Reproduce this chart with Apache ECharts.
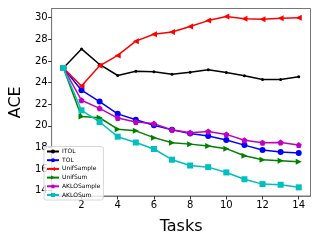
<!DOCTYPE html>
<html><head><meta charset="utf-8">
<script src="https://cdn.jsdelivr.net/npm/echarts@6/dist/echarts.min.js"></script>
<style>html,body{margin:0;padding:0;background:#fff}#c{width:320px;height:240px}</style>
</head><body><div id="c"></div>
<script>
const tasks = [1,2,3,4,5,6,7,8,9,10,11,12,13,14];
const ITOL = [25.35,27.11,25.67,24.65,25.04,25.0,24.77,24.95,25.19,24.92,24.62,24.29,24.29,24.53];
const TOL = [25.35,23.29,22.24,21.1,20.56,20.05,19.62,19.29,19.05,18.69,18.21,17.76,17.58,17.49];
const UnifSample = [25.35,23.68,25.55,26.51,27.83,28.47,28.68,29.19,29.73,30.1,29.91,29.85,29.94,30.0];
const UnifSum = [25.35,20.86,20.74,19.68,19.53,18.9,18.42,18.3,18.12,17.88,17.22,16.86,16.77,16.68];
const AKLOSample = [25.35,22.36,21.61,20.71,20.35,20.2,19.62,19.35,19.47,19.2,18.66,18.42,18.45,18.21];
const AKLOSum = [25.35,21.43,20.35,18.99,18.45,17.85,16.86,16.32,16.17,15.68,15.05,14.6,14.54,14.3];
const xTicks = [2,4,6,8,10,12,14];
const yTicks = [14,16,18,20,22,24,26,28,30];

const pentagon = 'path://M0,-1 L0.951,-0.309 L0.588,0.809 L-0.588,0.809 L-0.951,-0.309 Z';
function mk(name, data, color, symbol, size, rot) {
  return {
    name, type: 'line', data: tasks.map((t, i) => [t, data[i]]),
    symbol, symbolSize: size, symbolRotate: rot || 0,
    lineStyle: { color, width: 1.5 }, itemStyle: { color },
    showAllSymbol: true, animation: false
  };
}
const chart = echarts.init(document.getElementById('c'), null, { renderer: 'canvas' });
chart.setOption({
  animation: false,
  grid: { left: 41, right: 9.5, top: 8.5, bottom: 39, show: true, borderColor: '#777', borderWidth: 1 },
  xAxis: {
    type: 'value', min: 0.35, max: 14.65,
    name: 'Tasks', nameLocation: 'middle', nameGap: 23,
    nameTextStyle: { fontFamily: 'DejaVu Sans', fontSize: 16, color: '#000' },
    axisLine: { show: true, lineStyle: { color: '#777' } },
    axisTick: { show: true, length: 3.5, customValues: xTicks, lineStyle: { color: '#333' } },
    axisLabel: { customValues: xTicks, fontFamily: 'DejaVu Sans', fontSize: 10, color: '#000', margin: 4 },
    splitLine: { show: false }
  },
  yAxis: {
    type: 'value', min: 13.5, max: 30.85,
    name: 'ACE', nameLocation: 'middle', nameGap: 22,
    nameTextStyle: { fontFamily: 'DejaVu Sans', fontSize: 16, color: '#000' },
    axisLine: { show: true, lineStyle: { color: '#777' } },
    axisTick: { show: true, length: 3.5, customValues: yTicks, lineStyle: { color: '#333' } },
    axisLabel: { customValues: yTicks, fontFamily: 'DejaVu Sans', fontSize: 10, color: '#000', margin: 4 },
    splitLine: { show: false }
  },
  legend: {
    orient: 'vertical', left: 44, top: 146.5,
    itemWidth: 12, itemHeight: 5, itemGap: 2.7,
    padding: [2, 3, 2, 2],
    borderColor: '#ccc', borderWidth: 0.8, borderRadius: 2, backgroundColor: 'rgba(255,255,255,0.8)',
    textStyle: { fontFamily: 'DejaVu Sans', fontSize: 6, color: '#000', padding: [0,0,0,-2] },
    data: ['ITOL','TOL','UnifSample','UnifSum','AKLOSample','AKLOSum']
  },
  series: [
    mk('ITOL', ITOL, '#000000', 'circle', 3),
    mk('TOL', TOL, '#0000ff', 'circle', 6),
    mk('UnifSample', UnifSample, '#ff0000', 'triangle', 6, 90),
    mk('UnifSum', UnifSum, '#008000', 'triangle', 6, -90),
    mk('AKLOSample', AKLOSample, '#bf00bf', pentagon, 6),
    mk('AKLOSum', AKLOSum, '#00bfbf', 'rect', 6)
  ]
});
</script></body></html>
